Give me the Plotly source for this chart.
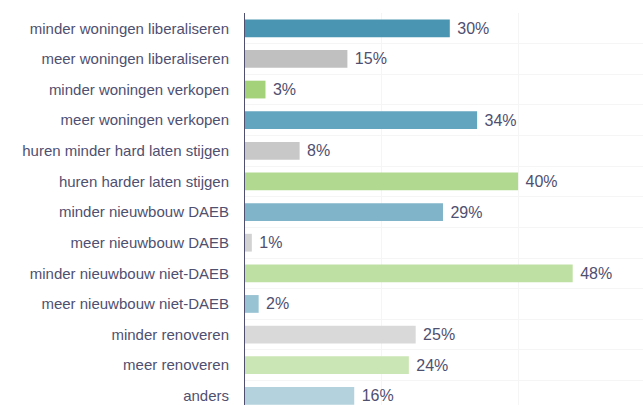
import plotly.graph_objects as go

categories = [
    "minder woningen liberaliseren",
    "meer woningen liberaliseren",
    "minder woningen verkopen",
    "meer woningen verkopen",
    "huren minder hard laten stijgen",
    "huren harder laten stijgen",
    "minder nieuwbouw DAEB",
    "meer nieuwbouw DAEB",
    "minder nieuwbouw niet-DAEB",
    "meer nieuwbouw niet-DAEB",
    "minder renoveren",
    "meer renoveren",
    "anders",
]
values = [30, 15, 3, 34, 8, 40, 29, 1, 48, 2, 25, 24, 16]
colors = [
    "#4a95b2", "#c0c0c0", "#a3d27a", "#63a5bf", "#c8c8c8", "#b1d98f",
    "#80b4c9", "#d2d2d2", "#bfe0a3", "#98c3d3", "#d9d9d9", "#cbe6b5", "#b3d2de",
]

txtcolor = "#4f4f70"

fig = go.Figure(go.Bar(
    x=values,
    y=categories,
    orientation="h",
    marker=dict(color=colors, line=dict(width=0)),
    text=[f" {v}%" for v in values],
    textposition="outside",
    textfont=dict(family="Liberation Sans, Arial", size=16, color=txtcolor),
    cliponaxis=False,
))

fig.update_layout(
    width=643, height=405,
    margin=dict(l=245, r=0, t=13, b=0),
    plot_bgcolor="white", paper_bgcolor="white",
    bargap=0.42,
    showlegend=False,
    font=dict(family="Liberation Sans, Arial", size=15, color=txtcolor),
)
fig.update_xaxes(
    range=[0, 58.3], dtick=20, showticklabels=False, zeroline=False,
    showgrid=True, gridcolor="#f5f5f5", gridwidth=1,
)
fig.update_yaxes(
    categoryorder="array", categoryarray=categories,
    range=[12.3, -0.5],
    tickson="boundaries", ticks="", showgrid=True, gridcolor="#f5f5f5",
    showline=True, linecolor="#4f4f70", linewidth=1,
    ticklabelstandoff=12,
    tickfont=dict(family="Liberation Sans, Arial", size=15, color=txtcolor),
)

fig.write_html("out.html")
